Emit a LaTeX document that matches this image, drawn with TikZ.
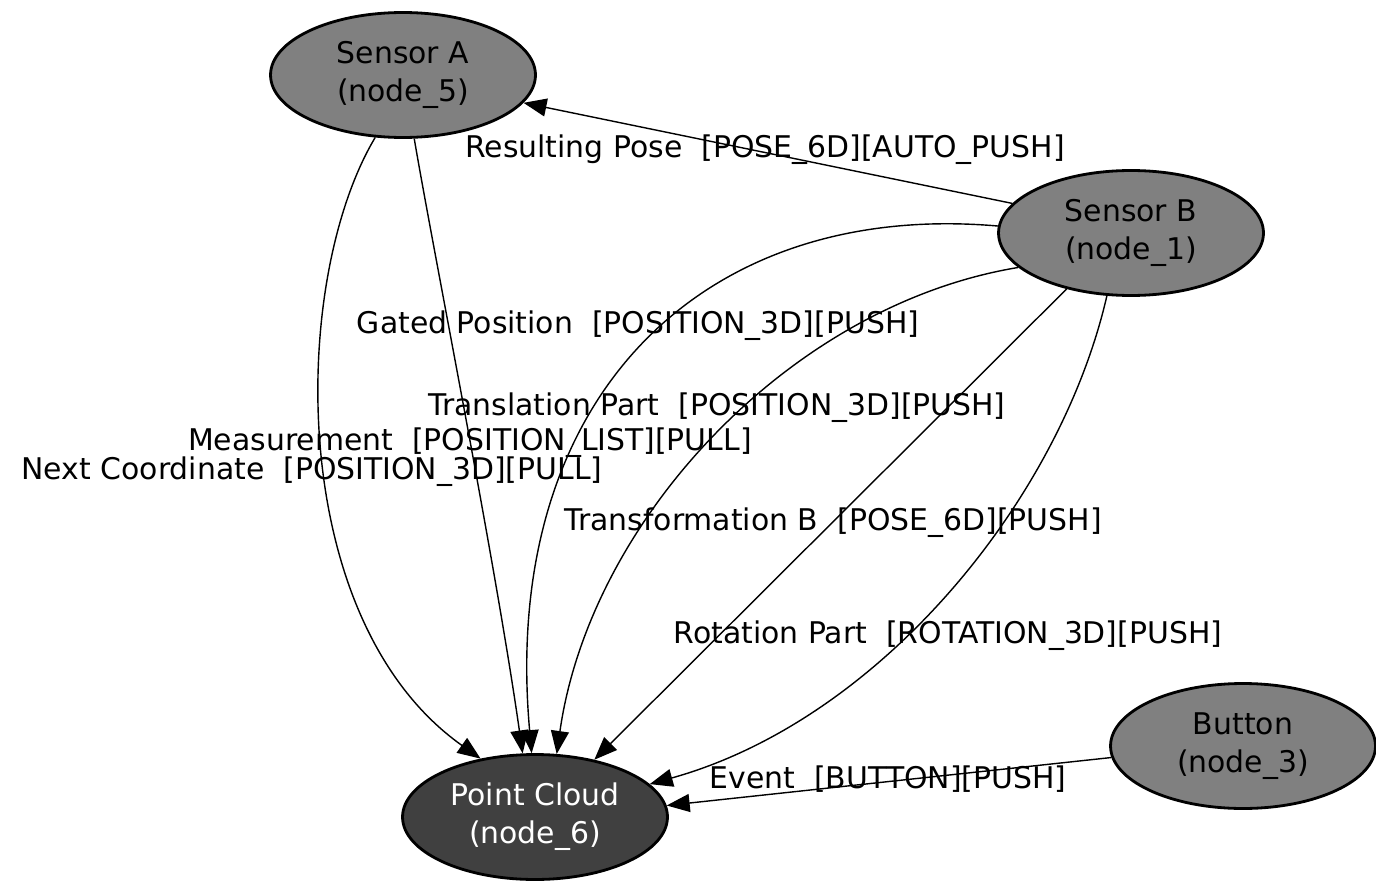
\documentclass[tikz,border=0pt]{standalone}
\usepackage{fontspec}
\setmainfont{DejaVu Sans}
\usetikzlibrary{arrows.meta, shapes.geometric}

\begin{document}
\begin{tikzpicture}[x=0.02cm, y=-0.02cm,
  every node/.style={font=\fontsize{17}{21.5}\selectfont, align=center},
  comp/.style={ellipse, draw=black, line width=1.6pt, fill=black!50,
    minimum width=5.3cm, minimum height=2.5cm, inner sep=0pt},
  sink/.style={comp, fill=black!75, text=white},
  edge/.style={line width=0.8pt, -{Triangle[length=0.46cm, width=0.36cm]}},
  lbl/.style={inner sep=0pt, font=\fontsize{17}{20}\selectfont}]
\useasboundingbox (0,0) rectangle (1376,882);

% Components
\foreach \n/\x/\y/\name/\k in {
  sensA/403/75/Sensor A/5,
  sensB/1131/233/Sensor B/1,
  btn/1243/746/Button/3} {
  \node[comp] (\n) at (\x,\y) {\name\\(node\_\k)};
}
\node[sink] (cloud) at (535,817) {Point Cloud\\(node\_6)};

% Sensor B to Sensor A
\draw[edge] (sensB.166) -- (sensA.-13)
  node[lbl] at (765,150) {Resulting Pose~~[POSE\_6D][AUTO\_PUSH]};

% Sensor A to Point Cloud
\draw[edge] (sensA.246) .. controls (290,280) and (285,620) .. (cloud.133)
  node[lbl] at (312,472) {Next Coordinate~~[POSITION\_3D][PULL]};
\draw[edge] (sensA.280) .. controls (435,260) and (495,560) .. (cloud.101)
  node[lbl] at (470,443) {Measurement~~[POSITION\_LIST][PULL]};

% Sensor B to Point Cloud
\draw[edge] (sensB.177) .. controls (700,200) and (500,400) .. (cloud.93)
  node[lbl] at (638,326) {Gated Position~~[POSITION\_3D][PUSH]};
\draw[edge] (sensB.197) .. controls (790,305) and (590,520) .. (cloud.71)
  node[lbl] at (717,408) {Translation Part~~[POSITION\_3D][PUSH]};
\draw[edge] (sensB.221) -- (cloud.44)
  node[lbl] at (833,523) {Transformation B~~[POSE\_6D][PUSH]};
\draw[edge] (sensB.249) .. controls (1060,500) and (880,720) .. (cloud.16)
  node[lbl] at (948,636) {Rotation Part~~[ROTATION\_3D][PUSH]};

% Button to Point Cloud
\draw[edge] (btn.185) -- (cloud.5)
  node[lbl] at (888,779) {Event~~[BUTTON][PUSH]};
\end{tikzpicture}
\end{document}
